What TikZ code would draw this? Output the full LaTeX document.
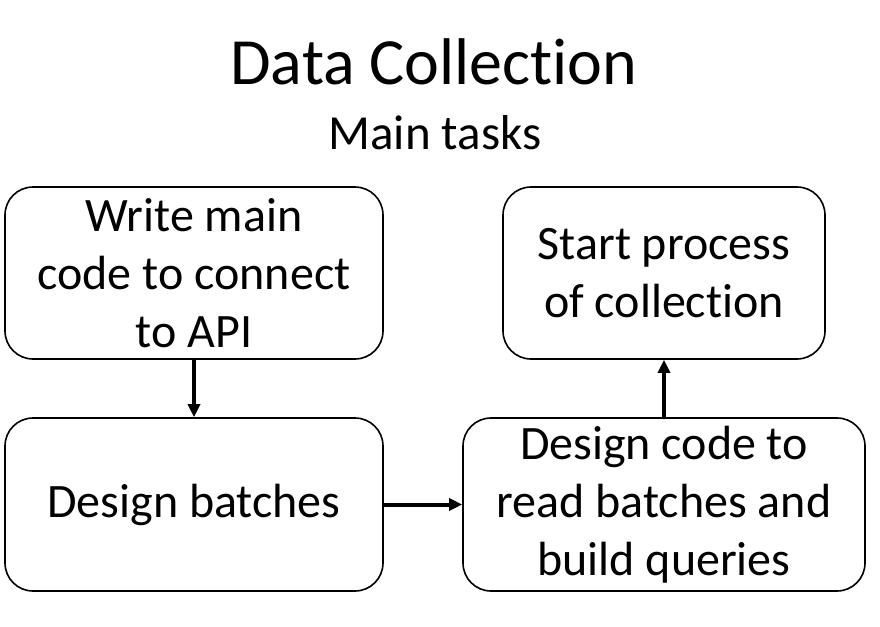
\documentclass[tikz,border=0pt]{standalone}
\usepackage{fontspec}
\setmainfont{Carlito}[Ligatures={NoCommon}]
\usetikzlibrary{arrows.meta}
\tikzset{
  task/.style={draw, line width=1.6pt, rounded corners=28pt, align=center,
    inner sep=0pt, font=\fontsize{48}{58}\selectfont},
  flow/.style={line width=4pt, -{Triangle[length=13pt,width=12pt]}}
}
\begin{document}
\begin{tikzpicture}[x=1pt,y=-1pt]
  \useasboundingbox (0,0) rectangle (880,626);
  \node [font=\fontsize{66}{70}\selectfont] (title) at (434,62) {Data Collection};
  \node [font=\fontsize{49}{55}\selectfont] (sub) at (435,133) {Main tasks};

  \node [task, minimum width=378pt, minimum height=172pt] (write) at (194,273)
    {Write main\\code to connect\\to API};
  \node [task, minimum width=378pt, minimum height=173pt] (batch) at (194,504.5)
    {Design batches};
  \node [task, minimum width=402pt, minimum height=173pt] (query) at (664,504.5)
    {Design code to\\read batches and\\build queries};
  \node [task, minimum width=322pt, minimum height=172pt] (start) at (664,273)
    {Start process\\of collection};

  \draw [flow] (write.south) -- (batch.north);
  \draw [flow] (batch.east) -- (query.west);
  \draw [flow] (query.north) -- (start.south);
\end{tikzpicture}
\end{document}
